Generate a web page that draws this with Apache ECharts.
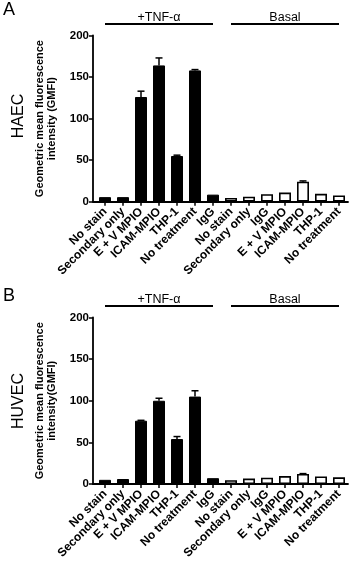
<!DOCTYPE html>
<html>
<head>
<meta charset="utf-8">
<script src="https://cdn.jsdelivr.net/npm/echarts@6/dist/echarts.min.js"></script>
<style>
  html, body { margin: 0; padding: 0; background: #fff; }
  #chart { width: 351px; height: 562px; }
</style>
</head>
<body>
<div id="chart"></div>
<script>
// categories along the x axis (same for both panels)
const categories = [
  'No stain', 'Secondary only', 'E + V MPIO', 'ICAM-MPIO', 'THP-1', 'No treatment', 'IgG',
  'No stain', 'Secondary only', 'IgG', 'E + V MPIO', 'ICAM-MPIO', 'THP-1', 'No treatment'
];
const yTicks = [0, 50, 100, 150, 200];

// group brackets above the bars: first / last category index
const groupNames = ['+TNF-\u03b1', 'Basal'];
const groupFrom = [0, 7];
const groupTo = [6, 13];

// Panel A - HAEC
const haecTnf = [5.5, 5.5, 126, 164, 55, 158, 8.5];
const haecTnfErr = [0, 0, 7, 9, 1, 1, 0];
const haecBasal = [4.5, 6, 9, 11, 24, 9.5, 7.5];
const haecBasalErr = [0, 0, 0, 0, 1, 0, 0];

// Panel B - HUVEC
const huvecTnf = [5, 6, 76, 100, 54, 105, 7];
const huvecTnfErr = [0, 0, 0.5, 3, 3, 7, 0];
const huvecBasal = [4.5, 6.5, 7.5, 9.5, 12, 9, 8];
const huvecBasalErr = [0, 0, 0, 0, 0.5, 0, 0];

const FONT = "'Liberation Sans', Arial, sans-serif";

const panels = [
  { top: 35.5, height: 166.2, cell: 'HAEC', yName: 'Geometric mean fluorescence\nintensity (GMFI)',
    tnf: haecTnf, tnfErr: haecTnfErr, basal: haecBasal, basalErr: haecBasalErr },
  { top: 317.5, height: 166.5, cell: 'HUVEC', yName: 'Geometric mean fluorescence\nintensity(GMFI)',
    tnf: huvecTnf, tnfErr: huvecTnfErr, basal: huvecBasal, basalErr: huvecBasalErr }
];

function errorItem(params, api) {
  const x = api.value(0), v = api.value(1), e = api.value(2);
  if (!(e > 0)) return null;
  const base = api.coord([x, v]);
  const top = api.coord([x, v + e]);
  const hw = 3.5;
  return {
    type: 'group',
    children: [
      { type: 'line', shape: { x1: base[0], y1: base[1], x2: top[0], y2: top[1] },
        style: { stroke: '#000', lineWidth: 1.5 } },
      { type: 'line', shape: { x1: top[0] - hw, y1: top[1], x2: top[0] + hw, y2: top[1] },
        style: { stroke: '#000', lineWidth: 1.5 } }
    ]
  };
}

function groupItem(params, api) {
  const a = api.coord([api.value(0), api.value(2)]);
  const b = api.coord([api.value(1), api.value(2)]);
  const y = a[1] - 11.5;
  return {
    type: 'group',
    children: [
      { type: 'line', shape: { x1: a[0], y1: y, x2: b[0], y2: y },
        style: { stroke: '#000', lineWidth: 2 } },
      { type: 'text', x: (a[0] + b[0]) / 2, y: y,
        style: { text: groupNames[params.dataIndex], align: 'center', verticalAlign: 'bottom',
                 font: '12.5px ' + FONT, fill: '#000' } }
    ]
  };
}

const grid = [], xAxis = [], yAxis = [], series = [];
const axisLine = { show: true, lineStyle: { color: '#000', width: 1.8 } };

panels.forEach((p, k) => {
  const g0 = k * 2, g1 = k * 2 + 1;
  grid.push({ left: 93, top: p.top, width: 255, height: p.height });
  grid.push({ left: 96, top: p.top, width: 252, height: p.height });

  // plain axis line spanning the whole plot width
  xAxis.push({ gridIndex: g0, type: 'value', min: 0, max: 1, axisLine: axisLine,
    axisTick: { show: false }, axisLabel: { show: false }, splitLine: { show: false } });
  xAxis.push({ gridIndex: g1, type: 'category', data: categories, axisLine: { show: false },
    axisTick: { show: true, alignWithLabel: true, length: 4, lineStyle: { color: '#000', width: 1.5 } },
    axisLabel: { interval: 0, rotate: 45, margin: 8, color: '#000', fontWeight: 'bold',
                 fontSize: 12, fontFamily: FONT } });

  yAxis.push({ gridIndex: g0, type: 'value', min: 0, max: 200, interval: 50,
    axisLine: axisLine,
    axisTick: { show: true, length: 4, lineStyle: { color: '#000', width: 1.5 } },
    axisLabel: { margin: 4, color: '#000', fontWeight: 'bold', fontSize: 11.5, fontFamily: FONT,
                 customValues: yTicks },
    splitLine: { show: false },
    name: p.yName, nameLocation: 'middle', nameRotate: 90, nameGap: 35,
    nameTextStyle: { color: '#000', fontWeight: 'bold', fontSize: 11, lineHeight: 12, fontFamily: FONT } });
  yAxis.push({ gridIndex: g1, type: 'value', min: 0, max: 200, show: false });

  const tnfData = categories.map((c, i) => i < 7 ? p.tnf[i] : '-');
  const basalData = categories.map((c, i) => i >= 7 ? p.basal[i - 7] : '-');
  const errData = p.tnf.map((v, i) => [i, v, p.tnfErr[i]])
    .concat(p.basal.map((v, i) => [i + 7, v, p.basalErr[i]]));

  series.push({ type: 'bar', xAxisIndex: g1, yAxisIndex: g1, data: tnfData, barWidth: 12,
    barGap: '-100%', itemStyle: { color: '#000', borderColor: '#000', borderWidth: 1 }, animation: false });
  series.push({ type: 'bar', xAxisIndex: g1, yAxisIndex: g1, data: basalData, barWidth: 12,
    barGap: '-100%', itemStyle: { color: '#fff', borderColor: '#000', borderWidth: 1.6 }, animation: false });
  series.push({ type: 'custom', xAxisIndex: g1, yAxisIndex: g1, renderItem: errorItem,
    encode: { x: 0, y: [1, 2] }, data: errData, z: 5, clip: false, animation: false });
  series.push({ type: 'custom', xAxisIndex: g1, yAxisIndex: g1, renderItem: groupItem,
    encode: { x: [0, 1], y: 2 }, data: groupFrom.map((f, i) => [f, groupTo[i], 200]),
    clip: false, silent: true, animation: false });
});

const chart = echarts.init(document.getElementById('chart'));
chart.setOption({
  backgroundColor: '#fff',
  animation: false,
  grid, xAxis, yAxis, series,
  graphic: [
    { type: 'text', left: 3, top: 1, style: { text: 'A', font: '18px ' + FONT, fill: '#000' } },
    { type: 'text', left: 3, top: 287, style: { text: 'B', font: '18px ' + FONT, fill: '#000' } },
    { type: 'text', x: 19, y: 116, rotation: Math.PI / 2,
      style: { text: 'HAEC', font: '16px ' + FONT, fill: '#000', align: 'center', verticalAlign: 'middle' } },
    { type: 'text', x: 19, y: 401, rotation: Math.PI / 2,
      style: { text: 'HUVEC', font: '16px ' + FONT, fill: '#000', align: 'center', verticalAlign: 'middle' } }
  ]
});
</script>
</body>
</html>
